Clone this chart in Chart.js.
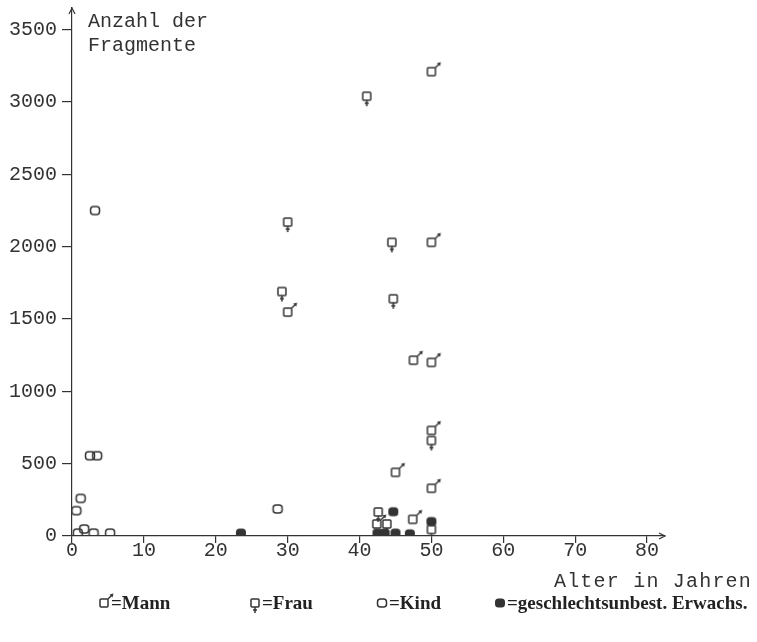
<!DOCTYPE html>
<html>
<head>
<meta charset="utf-8">
<script src="https://cdn.jsdelivr.net/npm/chart.js@4.4.1/dist/chart.umd.min.js"></script>
<style>
  html, body { margin: 0; background: #fff; }
  #wrap { width: 757px; height: 642px; }
</style>
</head>
<body>
<div id="wrap"><canvas id="chart"></canvas></div>
<script>
// Alter (Jahre) und Anzahl der Fragmente je Gruppe
const manAge = [50, 50, 30, 47.5, 50, 50, 45, 50, 47.4, 42.4];
const manCount = [3210, 2030, 1548, 1215, 1200, 730, 440, 330, 115, 83];

const womanAge = [41, 30, 29.2, 44.5, 44.7, 50, 42.6, 43.8, 50];
const womanCount = [3040, 2170, 1690, 2030, 1640, 660, 166, 83, 45];

const childAge = [3.2, 2.5, 3.5, 1.2, 0.6, 0.8, 1.7, 3, 5.3, 28.6];
const childCount = [2250, 555, 555, 260, 175, 20, 48, 20, 20, 187];

const unknownAge = [23.5, 42.5, 43.5, 45, 47, 44.7, 50];
const unknownCount = [20, 20, 20, 20, 15, 168, 100];

const xTicks = [0, 10, 20, 30, 40, 50, 60, 70, 80];
const yTicks = [0, 500, 1000, 1500, 2000, 2500, 3000, 3500];

const INK = "#333";
const MONO = "Liberation Mono";

function rrect(g, x, y, w, h, r) {
  g.beginPath();
  g.roundRect(x, y, w, h, r);
}

// kleine Symbole wie im Original
function makeSymbol(kind) {
  const c = document.createElement("canvas");
  c.width = 26;
  c.height = 26;
  const g = c.getContext("2d");
  g.strokeStyle = INK;
  g.fillStyle = INK;
  g.lineWidth = 1.5;
  const s = 8, x0 = 13 - s / 2, y0 = 13 - s / 2;
  if (kind === "kind") {
    rrect(g, 13 - 4.5, 13 - 4, 9, 8, 3);
    g.stroke();
  } else if (kind === "unknown") {
    rrect(g, 13 - 5, 13 - 4.5, 10, 9, 3.5);
    g.fill();
  } else {
    rrect(g, x0, y0, s, s, 1);
    g.stroke();
    g.beginPath();
    if (kind === "mann") {
      g.moveTo(x0 + s, y0);
      g.lineTo(x0 + s + 4, y0 - 4);
      g.stroke();
      g.beginPath();
      g.moveTo(x0 + s + 5.5, y0 - 5.5);
      g.lineTo(x0 + s + 1.5, y0 - 4.5);
      g.lineTo(x0 + s + 4.5, y0 - 1.5);
      g.closePath();
      g.fill();
    } else {
      g.moveTo(13, y0 + s);
      g.lineTo(13, y0 + s + 6);
      g.moveTo(11, y0 + s + 3);
      g.lineTo(15, y0 + s + 3);
      g.stroke();
    }
  }
  return c;
}

const symMann = makeSymbol("mann");
const symFrau = makeSymbol("frau");
const symKind = makeSymbol("kind");
const symUnknown = makeSymbol("unknown");

const toPoints = (xs, ys) => xs.map((x, i) => ({ x: x, y: ys[i] }));

const decorations = {
  id: "decorations",
  afterDraw(chart) {
    const ctx = chart.ctx;
    const a = chart.chartArea;
    ctx.save();
    ctx.strokeStyle = INK;
    ctx.lineWidth = 1.2;
    // Pfeilspitzen
    ctx.beginPath();
    ctx.moveTo(a.left - 3, a.top + 6);
    ctx.lineTo(a.left, a.top);
    ctx.lineTo(a.left + 3, a.top + 6);
    ctx.moveTo(a.right - 6, a.bottom - 3);
    ctx.lineTo(a.right, a.bottom);
    ctx.lineTo(a.right - 6, a.bottom + 3);
    ctx.stroke();

    ctx.fillStyle = "#333";
    ctx.font = "20px " + MONO;
    ctx.textBaseline = "middle";
    ctx.textAlign = "left";
    ctx.fillText("Anzahl der", 88, 22);
    ctx.fillText("Fragmente", 88, 46);
    ctx.textAlign = "right";
    ctx.letterSpacing = "1.2px";
    ctx.fillText("Alter in Jahren", 752, 582);
    ctx.letterSpacing = "0px";

    // Legende
    ctx.textAlign = "left";
    ctx.fillStyle = "#222";
    ctx.font = "bold 19px Liberation Serif";
    const items = [
      [symMann, 104, "=Mann"],
      [symFrau, 255, "=Frau"],
      [symKind, 382, "=Kind"],
      [symUnknown, 500, "=geschlechtsunbest. Erwachs."]
    ];
    items.forEach(([img, x, label]) => {
      ctx.drawImage(img, x - 13, 603 - 13);
      ctx.fillText(label, x + 7, 604);
    });
    ctx.restore();
  }
};

const tickFont = { family: MONO, size: 20 };

new Chart(document.getElementById("chart"), {
  type: "scatter",
  data: {
    datasets: [
      { label: "Mann", data: toPoints(manAge, manCount), pointStyle: symMann },
      { label: "Frau", data: toPoints(womanAge, womanCount), pointStyle: symFrau },
      { label: "Kind", data: toPoints(childAge, childCount), pointStyle: symKind },
      { label: "geschlechtsunbest. Erwachs.", data: toPoints(unknownAge, unknownCount), pointStyle: symUnknown }
    ]
  },
  options: {
    responsive: true,
    maintainAspectRatio: false,
    animation: false,
    layout: { padding: { left: 0, right: 92, top: 8, bottom: 0 } },
    elements: { point: { radius: 5 } },
    plugins: {
      legend: { display: false },
      tooltip: { enabled: false }
    },
    scales: {
      x: {
        type: "linear",
        min: 0,
        max: 82.5,
        afterBuildTicks: (s) => { s.ticks = xTicks.map((v) => ({ value: v })); },
        afterFit: (s) => { s.height = 106; },
        grid: { drawOnChartArea: false, drawTicks: true, tickLength: 7, color: INK, lineWidth: 1.2 },
        border: { color: INK, width: 1.2 },
        ticks: { padding: -4, maxRotation: 0, color: "#333", font: tickFont, callback: (v) => String(v) }
      },
      y: {
        type: "linear",
        min: 0,
        max: 3650,
        afterBuildTicks: (s) => { s.ticks = yTicks.map((v) => ({ value: v })); },
        afterFit: (s) => { s.width = 72; s.paddingTop = 0; s.paddingBottom = 0; },
        grid: { drawOnChartArea: false, drawTicks: true, tickLength: 10, color: INK, lineWidth: 1.2 },
        border: { color: INK, width: 1.2 },
        ticks: { padding: 5, color: "#333", font: tickFont, callback: (v) => String(v) }
      }
    }
  },
  plugins: [decorations]
});
</script>
</body>
</html>
